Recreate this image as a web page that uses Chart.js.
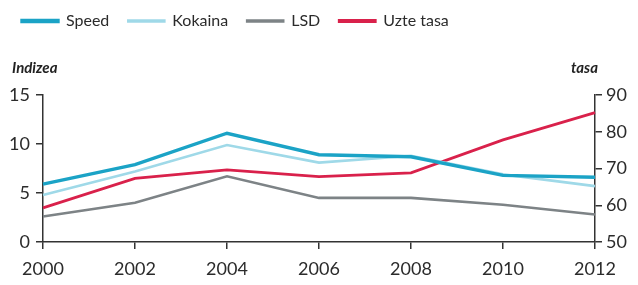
<!DOCTYPE html>
<html>
<head>
<meta charset="utf-8">
<script src="https://cdn.jsdelivr.net/npm/chart.js@4"></script>
<style>
  html, body { margin: 0; padding: 0; background: #fff; }
  #wrap { width: 638px; height: 285px; position: relative; }
</style>
</head>
<body>
<div id="wrap"><canvas id="drug-chart"></canvas></div>
<script>
const years = ['2000', '2002', '2004', '2006', '2008', '2010', '2012'];
const speed = [5.9, 7.9, 11.1, 8.9, 8.7, 6.8, 6.6];
const kokaina = [4.8, 7.2, 9.9, 8.1, 8.8, 6.9, 5.7];
const lsd = [2.6, 4.0, 6.7, 4.5, 4.5, 3.8, 2.8];
const uzteTasa = [59.3, 67.3, 69.6, 67.8, 68.8, 77.8, 85.2];
const leftTicks = [0, 5, 10, 15];
const rightTicks = [50, 60, 70, 80, 90];

const fontFamily = 'Lato, "Open Sans", sans-serif';
const textColor = '#2b2b2b';

// axis titles "Indizea" and "tasa"
const axisTitles = {
    id: 'axisTitles',
    afterDraw(chart) {
        const ctx = chart.ctx;
        ctx.save();
        ctx.font = 'italic bold 15px ' + fontFamily;
        ctx.fillStyle = '#222';
        ctx.textBaseline = 'middle';
        ctx.textAlign = 'left';
        ctx.fillText('Indizea', 12, 68);
        ctx.textAlign = 'right';
        ctx.fillText('tasa', 598, 68);
        ctx.restore();
    }
};

// legend takes the space above the plot, drawn a bit higher
const legendSpace = {
    id: 'legendSpace',
    beforeInit(chart) {
        const legend = chart.legend;
        const fit = legend.fit;
        legend.fit = function () {
            fit.bind(legend)();
            this.height = 87;
        };
        const draw = legend.draw;
        legend.draw = function () {
            const ctx = chart.ctx;
            ctx.save();
            ctx.translate(3, -14);
            draw.bind(legend)();
            ctx.restore();
        };
    }
};

function render() {
    const ctx = document.getElementById('drug-chart').getContext('2d');

    new Chart(ctx, {
        type: 'line',
        data: {
            labels: years,
            datasets: [
                { label: 'Speed', data: speed, borderColor: '#1ba3c6', backgroundColor: '#1ba3c6', borderWidth: 3.4, yAxisID: 'y' },
                { label: 'Kokaina', data: kokaina, borderColor: '#9fd9e8', backgroundColor: '#9fd9e8', borderWidth: 2.6, yAxisID: 'y' },
                { label: 'LSD', data: lsd, borderColor: '#7d8386', backgroundColor: '#7d8386', borderWidth: 2.6, yAxisID: 'y' },
                { label: 'Uzte tasa', data: uzteTasa, borderColor: '#d9214b', backgroundColor: '#d9214b', borderWidth: 2.8, yAxisID: 'y1' }
            ]
        },
        options: {
            responsive: true,
            maintainAspectRatio: false,
            animation: false,
            elements: { point: { radius: 0 }, line: { tension: 0 } },
            layout: { padding: { top: 8, left: 0, right: 0, bottom: 0 } },
            plugins: {
                tooltip: { enabled: false },
                legend: {
                    position: 'top',
                    align: 'start',
                    labels: {
                        boxWidth: 36,
                        boxHeight: 1,
                        padding: 19,
                        color: textColor,
                        font: { family: fontFamily, size: 16 }
                    }
                }
            },
            scales: {
                x: {
                    type: 'category',
                    offset: false,
                    afterFit: axis => { axis.height = 43; },
                    border: { display: true, color: '#333', width: 1.5 },
                    grid: { drawOnChartArea: false, drawTicks: true, tickLength: 7, color: '#333', lineWidth: 1.5 },
                    ticks: { color: textColor, padding: 11, maxRotation: 0, font: { family: fontFamily, size: 18, lineHeight: 1 } }
                },
                y: {
                    position: 'left',
                    min: 0,
                    max: 15,
                    afterBuildTicks: axis => { axis.ticks = leftTicks.map(v => ({ value: v })); },
                    afterFit: axis => { axis.width = 43; },
                    border: { display: true, color: '#333', width: 1.5 },
                    grid: { drawOnChartArea: false, drawTicks: true, tickLength: 7, color: '#333', lineWidth: 1.5 },
                    ticks: { color: textColor, padding: 6, font: { family: fontFamily, size: 18 } }
                },
                y1: {
                    position: 'right',
                    min: 50,
                    max: 90,
                    afterBuildTicks: axis => { axis.ticks = rightTicks.map(v => ({ value: v })); },
                    afterFit: axis => { axis.width = 43; },
                    border: { display: true, color: '#333', width: 1.5 },
                    grid: { drawOnChartArea: false, drawTicks: true, tickLength: 7, color: '#333', lineWidth: 1.5 },
                    ticks: { color: textColor, padding: 4, font: { family: fontFamily, size: 18 } }
                }
            }
        },
        plugins: [axisTitles, legendSpace]
    });
}

document.addEventListener('DOMContentLoaded', render);
</script>
</body>
</html>
